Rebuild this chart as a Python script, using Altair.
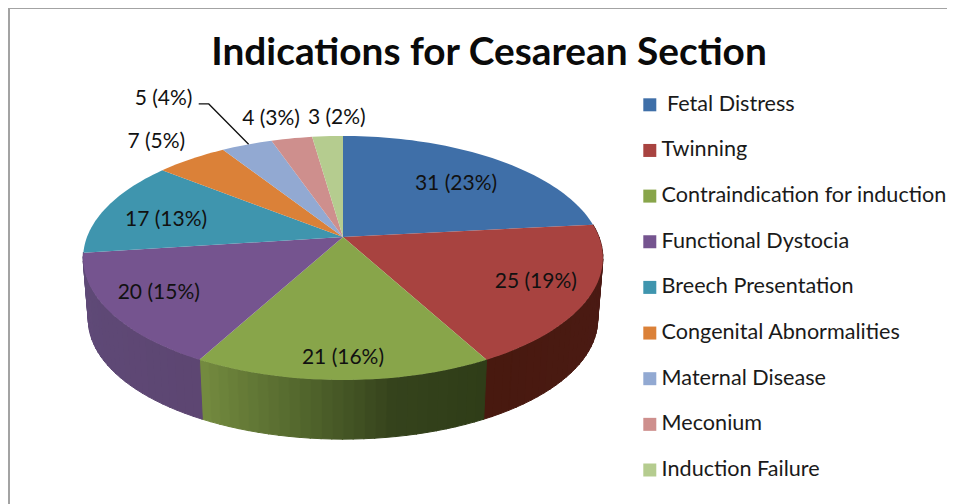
import math
import altair as alt
import pandas as pd

# --- data ---
names = ["Fetal Distress", "Twinning", "Contraindication for induction", "Functional Dystocia",
         "Breech Presentation", "Congenital Abnormalities", "Maternal Disease", "Meconium", "Induction Failure"]
counts = [31, 25, 21, 20, 17, 7, 5, 4, 3]
percents = [23, 19, 16, 15, 13, 5, 4, 3, 2]

# --- styles ---
top_colors = ["#3f6fa8", "#a84340", "#88a54a", "#75548f", "#3f95ae", "#db8138", "#92a9d2", "#ce8f8d", "#b5cc8f"]
wall_stops = {
    1: ["#4c1b16", "#48190f"],
    2: ["#2f3d18", "#35431c", "#55692e", "#738a3f"],
    3: ["#5d4672", "#5f4a78"],
}
label_radius = [0.689, 0.787, 0.863, 0.793, 0.727, 1.268, 1.715, 1.27, 1.24]
label_shift = [2.1, -2.0, 0.0, 1.7, -3.1, 0.0, -5.1, -2.0, 2.7]
leader_radius = [1.56, 1.537, 1.0]
leader_shift = [-0.9, 0.7, 0.5]

# --- perspective projection of the disc (page-like units) ---
CX, CY, A, B, K = 343.0, 237.0, 256.0, 118.4, 0.172
DEPTH, SHRINK = 62.0, 0.98


def project(r, deg, bottom=False):
    t = math.radians(deg)
    u, v = r * math.sin(t), r * math.cos(t)
    d = 1 + K * v
    x, y = A * u / d, B * v / d
    if bottom:
        return CX + SHRINK * x, CY + DEPTH - SHRINK * y
    return CX + x, CY - y


def mix(stops, f):
    p = f * (len(stops) - 1)
    i = min(int(p), len(stops) - 2)
    w = p - i
    a = [int(stops[i][j:j + 2], 16) for j in (1, 3, 5)]
    b = [int(stops[i + 1][j:j + 2], 16) for j in (1, 3, 5)]
    return "#%02x%02x%02x" % tuple(round(a[k] + (b[k] - a[k]) * w) for k in range(3))


total = sum(counts)
edges = [0.0]
for c in counts:
    edges.append(edges[-1] + c / total * 360)

top_rows, wall_rows = [], []
for i, name in enumerate(names):
    a0, a1 = edges[i], edges[i + 1]
    n = max(2, int((a1 - a0) / 1.5))
    pts = [(CX, CY)] + [project(1, a0 + (a1 - a0) * j / n) for j in range(n + 1)] + [(CX, CY)]
    for o, (x, y) in enumerate(pts):
        top_rows.append({"name": name, "x": x, "y": y, "o": o})
    if i in wall_stops:
        m = max(2, int((a1 - a0) / 2))
        for s in range(m):
            d0 = a0 + (a1 - a0) * s / m
            d1 = a0 + (a1 - a0) * (s + 1) / m + 0.2
            col = mix(wall_stops[i], s / max(1, m - 1))
            quad = [project(1, d0), project(1, d1), project(1, d1, True), project(1, d0, True), project(1, d0)]
            for o, (x, y) in enumerate(quad):
                wall_rows.append({"strip": f"{i}-{s}", "col": col, "x": x, "y": y, "o": o})

label_rows = []
for i, (c, p) in enumerate(zip(counts, percents)):
    mid = (edges[i] + edges[i + 1]) / 2
    x, y = project(label_radius[i], mid + label_shift[i])
    label_rows.append({"text": f"{c} ({p}%)", "x": x, "y": y})

mat_mid = (edges[6] + edges[7]) / 2
leader_rows = []
for o, (r, s) in enumerate(zip(leader_radius, leader_shift)):
    x, y = project(r, mat_mid + s)
    leader_rows.append({"x": x, "y": y, "o": o})

W, H = 939, 496
X = alt.X("x:Q", axis=None, scale=alt.Scale(domain=[8, 8 + W], range=[0, W], nice=False, zero=False))
Y = alt.Y("y:Q", axis=None, scale=alt.Scale(domain=[8 + H, 8], range=[H, 0], nice=False, zero=False))

walls = alt.Chart(pd.DataFrame(wall_rows)).mark_line(filled=True, strokeWidth=1, interpolate="linear").encode(
    x=X, y=Y, order="o:Q", detail="strip:N",
    fill=alt.Fill("col:N", scale=None), stroke=alt.Stroke("col:N", scale=None),
)

tops = alt.Chart(pd.DataFrame(top_rows)).mark_line(filled=True, interpolate="linear").encode(
    x=X, y=Y, order="o:Q",
    color=alt.Color("name:N", sort=names, scale=alt.Scale(domain=names, range=top_colors), legend=alt.Legend(
        title=None, orient="none", legendX=631, legendY=86, symbolType="square", symbolSize=169,
        symbolStrokeWidth=0, labelFont="Lato", labelFontSize=21.6, labelColor="#1a1a1a", labelOffset=1,
        rowPadding=22.65, labelLimit=400, padding=0, symbolOpacity=1,
        labelExpr="datum.label == 'Fetal Distress' ? '\u2060\u2005' + datum.label : datum.label",
    )),
)

leader = alt.Chart(pd.DataFrame(leader_rows)).mark_line(color="#111111", strokeWidth=1.3, interpolate="linear").encode(
    x=X, y=Y, order="o:Q")

labels = alt.Chart(pd.DataFrame(label_rows)).mark_text(
    font="Lato", fontSize=21, color="#111111", align="center", baseline="middle", dy=1.5).encode(x=X, y=Y, text="text:N")

frame_rows = pd.DataFrame({"x": [9, 9, 947], "y": [504, 8, 8], "o": [0, 1, 2]})
frame = alt.Chart(frame_rows).mark_line(color="#a3a3a3", strokeWidth=2, interpolate="linear").encode(
    x=X, y=Y, order="o:Q")

chart = alt.layer(frame, walls, tops, leader, labels).properties(
    width=W, height=H, padding=0, autosize=alt.AutoSizeParams(type="none"),
    background="white",
    title=alt.TitleParams("Indications for Cesarean Section", font="Lato", fontSize=38.8, fontWeight="bold",
                          color="#0a0a0a", anchor="middle", baseline="alphabetic", offset=0, dx=11.5, dy=100),
).resolve_scale(color="independent").configure_view(stroke=None)

chart.save("out.html", embed_options={"renderer": "svg", "actions": False})
